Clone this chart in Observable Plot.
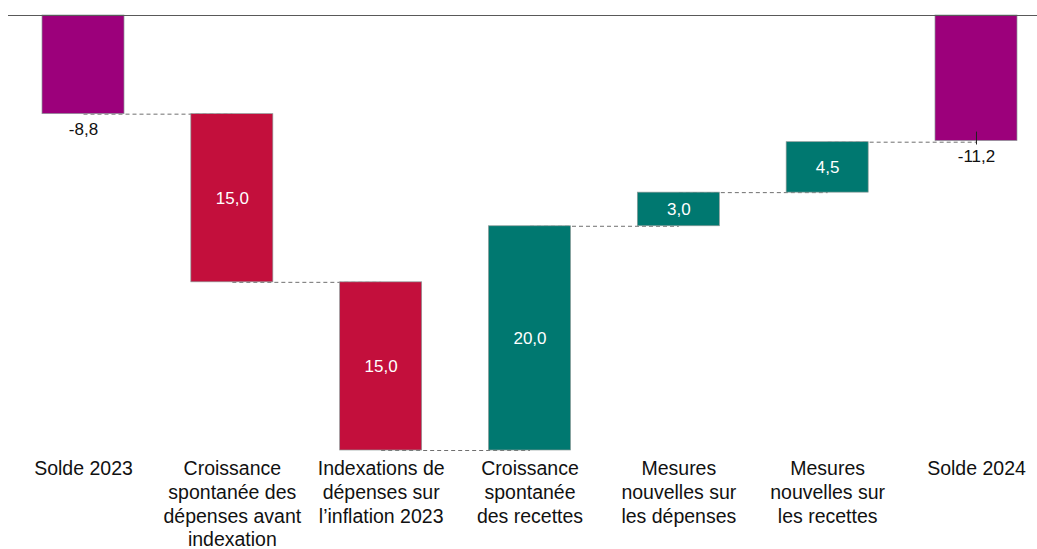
<!DOCTYPE html>
<html>
<head>
<meta charset="utf-8">
<script src="https://cdn.jsdelivr.net/npm/d3@7"></script>
<script src="https://cdn.jsdelivr.net/npm/@observablehq/plot@0.6"></script>
<style>
  html, body { margin: 0; padding: 0; background: #fff; }
  #chart { width: 1037px; height: 549px; }
</style>
</head>
<body>
<div id="chart"></div>
<script>
const categories = ["Solde 2023", "Croissance dépenses", "Indexations", "Croissance recettes", "Mesures dépenses", "Mesures recettes", "Solde 2024"];
const tickLabels = [
  "Solde 2023",
  "Croissance\nspontanée des\ndépenses avant\nindexation",
  "Indexations de\ndépenses sur\nl’inflation 2023",
  "Croissance\nspontanée\ndes recettes",
  "Mesures\nnouvelles sur\nles dépenses",
  "Mesures\nnouvelles sur\nles recettes",
  "Solde 2024"
];
const values = [-8.8, -15.0, -15.0, 20.0, 3.0, 4.5, -11.2];
const kinds = ["total", "dec", "dec", "inc", "inc", "inc", "total"];
const valueLabels = ["-8,8", "15,0", "15,0", "20,0", "3,0", "4,5", "-11,2"];
const colors = {total: "#9c007b", dec: "#c30f3c", inc: "#007870"};

// build waterfall table
let running = 0;
const rows = categories.map((c, i) => {
  let start, end;
  if (kinds[i] === "total") { start = 0; end = values[i]; }
  else { start = running; end = running + values[i]; }
  running = end;
  return {cat: c, start, end, kind: kinds[i], label: valueLabels[i], mid: (start + end) / 2};
});
const links = rows.slice(0, -1).map((r, i) => ({from: r.cat, to: rows[i + 1].cat, level: r.end}));
const totals = rows.filter(r => r.kind === "total");
const inner = rows.filter(r => r.kind !== "total");
const labelMap = new Map(categories.map((c, i) => [c, tickLabels[i]]));

const chart = Plot.plot({
  width: 1037,
  height: 549,
  marginTop: 15,
  marginBottom: 99,
  marginLeft: 8,
  marginRight: 0,
  style: {fontFamily: "'Liberation Sans', Arial, sans-serif", background: "#fff"},
  x: {domain: categories, range: [42, 1017], paddingInner: 0.449, paddingOuter: 0, round: false, axis: null},
  y: {domain: [-38.8, 0], axis: null},
  marks: [
    Plot.link(links, {x1: "from", x2: "to", y1: "level", y2: "level", stroke: "#6f6f6f", strokeWidth: 1, strokeDasharray: "4,3"}),
    Plot.barY(rows, {x: "cat", y1: "start", y2: "end", fill: d => colors[d.kind], stroke: "#8c9a98", strokeWidth: 0.7}),
    Plot.ruleY([0], {stroke: "#595959", strokeWidth: 1}),
    Plot.ruleX(totals.filter(d => d.cat === "Solde 2024"), {x: "cat", y1: d => d.end + 0.8, y2: d => d.end - 0.35, stroke: "#222", strokeWidth: 1}),
    Plot.text(totals, {x: "cat", y: "end", text: "label", dy: 15, fill: "#111", fontSize: 17, lineAnchor: "middle"}),
    Plot.text(inner, {x: "cat", y: "mid", text: "label", fill: "#fff", fontSize: 17, lineAnchor: "middle"}),
    Plot.axisX({tickSize: 0, tickPadding: 8, fontSize: 19.5, lineHeight: 1.215, tickFormat: d => labelMap.get(d), fill: "#111", lineAnchor: "top"})
  ]
});
document.getElementById("chart").appendChild(chart);
</script>
</body>
</html>
